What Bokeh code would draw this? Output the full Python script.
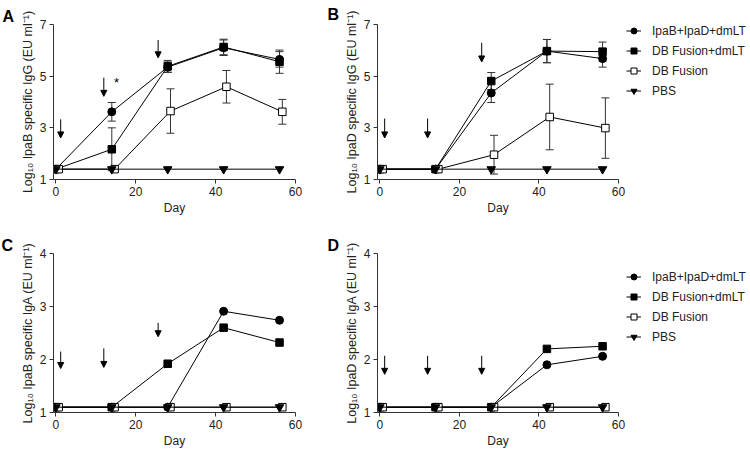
from bokeh.plotting import figure
from bokeh.models import (ColumnDataSource, Whisker, TeeHead, Arrow, NormalHead,
                          Legend, LegendItem, FixedTicker, Range1d)
from bokeh.layouts import column, row
from bokeh.embed import file_html
from bokeh.resources import INLINE
from bokeh.core.properties import value

# ---------------- data ----------------
days = [0, 14, 28, 42, 56]
series_names = ["IpaB+IpaD+dmLT", "DB Fusion+dmLT", "DB Fusion", "PBS"]
x_ticks = [0, 20, 40, 60]
igg_ticks = [1, 3, 5, 7]
iga_ticks = [1, 2, 3, 4]
panel_letters = ["A", "B", "C", "D"]

# Panel A: Log10 IpaB specific IgG
a_ipab = [1.40, 3.62, 5.35, 6.10, 5.65]
a_ipab_err = [0, 0.36, 0.20, 0.30, 0.30]
a_dbdm = [1.40, 2.17, 5.38, 6.13, 5.56]
a_dbdm_err = [0, 0.83, 0.23, 0.30, 0.45]
a_db = [1.40, 1.40, 3.65, 4.59, 3.62]
a_db_err = [0, 0, 0.86, 0.63, 0.48]
a_pbs = [1.40, 1.40, 1.40, 1.40, 1.40]
a_pbs_err = [0, 0, 0, 0, 0]

# Panel B: Log10 IpaD specific IgG
b_ipab = [1.40, 1.40, 4.35, 5.97, 5.68]
b_ipab_err = [0, 0, 0.37, 0.45, 0.33]
b_dbdm = [1.40, 1.40, 4.81, 5.97, 5.95]
b_dbdm_err = [0, 0, 0.33, 0.45, 0.37]
b_db = [1.40, 1.40, 1.96, 3.42, 2.99]
b_db_err = [0, 0, 0.75, 1.27, 1.17]
b_pbs = [1.40, 1.40, 1.40, 1.40, 1.40]
b_pbs_err = [0, 0, 0, 0, 0]

# Panel C: Log10 IpaB specific IgA
c_ipab = [1.10, 1.10, 1.10, 2.91, 2.74]
c_dbdm = [1.10, 1.10, 1.92, 2.60, 2.32]
c_db = [1.10, 1.10, 1.10, 1.10, 1.10]
c_pbs = [1.10, 1.10, 1.10, 1.10, 1.10]

# Panel D: Log10 IpaD specific IgA
d_ipab = [1.10, 1.10, 1.10, 1.90, 2.06]
d_dbdm = [1.10, 1.10, 1.10, 2.20, 2.25]
d_db = [1.10, 1.10, 1.10, 1.10, 1.10]
d_pbs = [1.10, 1.10, 1.10, 1.10, 1.10]

# immunization arrows (day, top, bottom)
arrow_days = [1.2, 12.0, 25.6]
a_arrow_top = [3.33, 4.94, 6.40]
a_arrow_bot = [2.61, 4.22, 5.71]
b_arrow_top = [3.36, 3.36, 6.29]
b_arrow_bot = [2.61, 2.61, 5.55]
c_arrow_top = [2.15, 2.21, 2.69]
c_arrow_bot = [1.83, 1.85, 2.43]
d_arrow_top = [2.07, 2.07, 2.07]
d_arrow_bot = [1.72, 1.72, 1.72]

# significance mark in panel A
star_day = [15.2]
star_y = [4.75]

FONT = "Liberation Sans"
INK = "#222222"

styles = [
    dict(marker="circle", fill="black", size=8, offset=0.0),
    dict(marker="square", fill="black", size=7.5, offset=0.0),
    dict(marker="square", fill="white", size=7.5, offset=0.7),
    dict(marker="inverted_triangle", fill="black", size=8.5, offset=0.0),
]


def make_panel(width, height, left, right, top, bottom, ylo, yhi, yticks, ylabel,
               letter, letter_offset, letter_valign):
    p = figure(width=width, height=height,
               x_range=Range1d(-0.6, 60), y_range=Range1d(ylo, yhi),
               output_backend="svg", toolbar_location=None,
               min_border_left=left, min_border_right=right,
               min_border_top=top, min_border_bottom=bottom)
    p.outline_line_color = None
    p.xgrid.visible = False
    p.ygrid.visible = False
    p.xaxis.ticker = FixedTicker(ticks=x_ticks)
    p.yaxis.ticker = FixedTicker(ticks=yticks)
    for ax in (p.xaxis[0], p.yaxis[0]):
        ax.axis_line_color = "#333333"
        ax.major_tick_line_color = "#333333"
        ax.major_tick_out = 4
        ax.major_tick_in = 0
        ax.minor_tick_line_color = None
        ax.major_label_text_font = FONT
        ax.major_label_text_font_size = "12px"
        ax.major_label_text_color = INK
        ax.axis_label_text_font = FONT
        ax.axis_label_text_font_size = "12px"
        ax.axis_label_text_font_style = "normal"
        ax.axis_label_text_color = INK
        ax.major_label_standoff = 3
        ax.axis_label_standoff = 2
    p.yaxis.axis_label_text_font_size = "12.5px"
    p.xaxis.axis_label = "Day"
    p.yaxis.axis_label = ylabel
    # panel letter as a left-aligned title pulled out over the left border
    p.title.text = letter
    p.title.text_font = FONT
    p.title.text_font_size = "16px"
    p.title.text_font_style = "bold"
    p.title.text_color = "black"
    p.title.align = "left"
    p.title.offset = letter_offset
    p.title.standoff = 0
    p.title.vertical_align = letter_valign
    return p


def add_series(p, values_list, errs_list):
    for name, vals, errs, st in zip(series_names, values_list, errs_list, styles):
        xs = [d + st["offset"] for d in days]
        src = ColumnDataSource(dict(x=xs, y=vals))
        p.line("x", "y", source=src, line_color="black", line_width=1)
        if errs is not None:
            ex = [x for x, e in zip(xs, errs) if e > 0]
            up = [v + e for v, e in zip(vals, errs) if e > 0]
            lo = [v - e for v, e in zip(vals, errs) if e > 0]
            if ex:
                wsrc = ColumnDataSource(dict(base=ex, upper=up, lower=lo))
                w = Whisker(source=wsrc, base="base", upper="upper", lower="lower",
                            dimension="height", line_color="#333333", line_width=1,
                            upper_head=TeeHead(size=8, line_color="#333333", line_width=1),
                            lower_head=TeeHead(size=8, line_color="#333333", line_width=1))
                p.add_layout(w)
        p.scatter("x", "y", source=src, marker=st["marker"], size=st["size"],
                  fill_color=st["fill"], line_color="black", line_width=1)


def add_arrows(p, tops, bots):
    src = ColumnDataSource(dict(x0=arrow_days, y0=tops, x1=arrow_days, y1=bots))
    p.add_layout(Arrow(x_start="x0", y_start="y0", x_end="x1", y_end="y1", source=src,
                       line_color="black", line_width=1,
                       end=NormalHead(size=6, fill_color="black", line_color="black", line_width=1)))


def make_legend_panel(width, height, values_list, vx, vy):
    """A bare canvas that only carries the series key, beside a panel.
    The key's renderers hold the panel's series, but lie outside this canvas's ranges."""
    lp = figure(width=width, height=height, x_range=Range1d(100, 101), y_range=Range1d(100, 101),
                output_backend="svg", toolbar_location=None,
                x_axis_type=None, y_axis_type=None,
                min_border_left=0, min_border_right=0, min_border_top=0, min_border_bottom=0)
    lp.outline_line_color = None
    lp.xgrid.visible = False
    lp.ygrid.visible = False
    items = []
    for name, vals, st in zip(series_names, values_list, styles):
        src = ColumnDataSource(dict(x=days, y=vals))
        ln = lp.line("x", "y", source=src, line_color="black", line_width=1)
        sc = lp.scatter("x", "y", source=src, marker=st["marker"], size=st["size"],
                        fill_color=st["fill"], line_color="black", line_width=1)
        items.append(LegendItem(label=name, renderers=[ln, sc]))
    lg = Legend(items=items, location=(vx, vy), border_line_color=None,
                background_fill_alpha=0, padding=0, margin=0, spacing=1,
                glyph_width=15, glyph_height=19, label_height=19, label_standoff=11,
                label_text_font=FONT, label_text_font_size="12px", label_text_color=INK)
    lp.add_layout(lg)
    return lp


# Panel A
pA = make_panel(326, 234, 53, 31, 19, 55, 1, 7, igg_ticks,
                "Log\u2081\u2080 IpaB specific IgG (EU ml\u207b\u00b9)",
                panel_letters[0], -51, "bottom")
add_series(pA, [a_ipab, a_dbdm, a_db, a_pbs], [a_ipab_err, a_dbdm_err, a_db_err, a_pbs_err])
add_arrows(pA, a_arrow_top, a_arrow_bot)
pA.text(x=star_day, y=star_y, text=["*"], text_font=value(FONT), text_font_size="13px",
        text_align="center", text_baseline="middle", text_color="black")

# Panel B
pB = make_panel(300, 234, 51, 8, 24, 49, 1, 7, igg_ticks,
                "Log\u2081\u2080 IpaD specific IgG (EU ml\u207b\u00b9)",
                panel_letters[1], -50, "top")
add_series(pB, [b_ipab, b_dbdm, b_db, b_pbs], [b_ipab_err, b_dbdm_err, b_db_err, b_pbs_err])
add_arrows(pB, b_arrow_top, b_arrow_bot)
legB = make_legend_panel(124, 234, [b_ipab, b_dbdm, b_db, b_pbs], 0, 79)

# Panel C
pC = make_panel(326, 216, 53, 31, 18, 38, 1, 4, iga_ticks,
                "Log\u2081\u2080 IpaB specific IgA (EU ml\u207b\u00b9)",
                panel_letters[2], -52, "bottom")
add_series(pC, [c_ipab, c_dbdm, c_db, c_pbs], [None, None, None, None])
add_arrows(pC, c_arrow_top, c_arrow_bot)

# Panel D
pD = make_panel(300, 216, 51, 8, 18, 38, 1, 4, iga_ticks,
                "Log\u2081\u2080 IpaD specific IgA (EU ml\u207b\u00b9)",
                panel_letters[3], -50, "bottom")
add_series(pD, [d_ipab, d_dbdm, d_db, d_pbs], [None, None, None, None])
add_arrows(pD, d_arrow_top, d_arrow_bot)
legD = make_legend_panel(124, 216, [d_ipab, d_dbdm, d_db, d_pbs], 0, 66)

layout = column(row(pA, pB, legB), row(pC, pD, legD))
open("out.html", "w").write(file_html(layout, INLINE))
